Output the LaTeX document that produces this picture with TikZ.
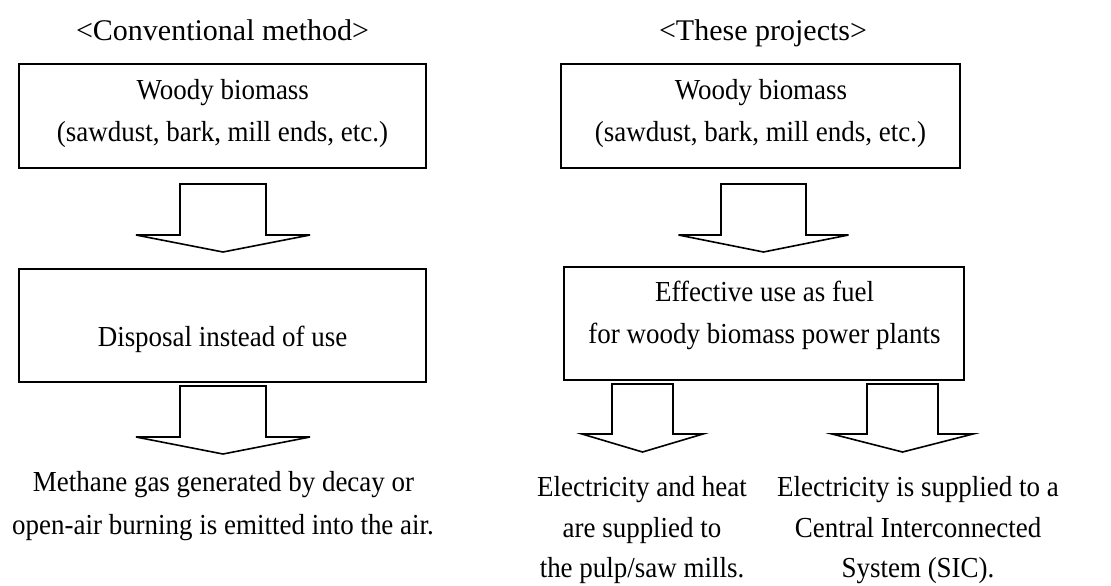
\documentclass[tikz,border=0pt]{standalone}
\usepackage{fontspec}
\setmainfont[FakeStretch=0.93]{Liberation Serif}
\newfontfamily\titlefont{Liberation Serif}
\tikzset{
  box/.style={draw, line width=1pt, inner sep=0pt},
  barrow/.style={draw, line width=0.8pt, line join=miter},
  txt/.style={inner sep=0pt, anchor=base, font=\fontsize{14.5}{17}\selectfont},
  ttl/.style={inner sep=0pt, anchor=base, font=\titlefont\fontsize{15}{18}\selectfont},
}
% block arrow: centre x, top y, shoulder y, tip y, half stem width, half head width
\newcommand\blockarrow[6]{%
  \draw[barrow] ({#1-#5},#2) -- ({#1+#5},#2) -- ({#1+#5},#3) -- ({#1+#6},#3)
    -- (#1,#4) -- ({#1-#6},#3) -- ({#1-#5},#3) -- cycle;}
\begin{document}
\begin{tikzpicture}[x=0.5pt,y=-0.5pt]
\path[use as bounding box] (0,0) rectangle (1111,585);

% ---------- left column ----------
\node[ttl] (tl) at (222.5,40.7) {<Conventional method>};
\node[box, minimum width=203.5pt, minimum height=52pt] (l1) at (222.5,116) {};
\node[txt] (l1a) at (222.8,99) {Woody biomass};
\node[txt] (l1b) at (222.5,141) {(sawdust, bark, mill ends, etc.)};
\blockarrow{223}{184}{235}{252}{43}{87}
\node[box, minimum width=203.5pt, minimum height=56.5pt] (l2) at (222.5,325.5) {};
\node[txt] (l2a) at (222.5,346) {Disposal instead of use};
\blockarrow{223}{386}{437}{454}{43}{87}
\node[txt] (l3a) at (223.5,491) {Methane gas generated by decay or};
\node[txt] (l3b) at (223,534) {open-air burning is emitted into the air.};

% ---------- right column ----------
\node[ttl] (tr) at (763,40.7) {<These projects>};
\node[box, minimum width=199.5pt, minimum height=52pt] (r1) at (760.5,116) {};
\node[txt] (r1a) at (761,99) {Woody biomass};
\node[txt] (r1b) at (760.5,141) {(sawdust, bark, mill ends, etc.)};
\blockarrow{763.5}{184}{235}{252}{42.5}{85}
\node[box, minimum width=200pt, minimum height=56.5pt] (r2) at (764,323.5) {};
\node[txt] (r2a) at (764.5,301) {Effective use as fuel};
\node[txt] (r2b) at (764.5,343) {for woody biomass power plants};
\blockarrow{642.5}{384}{434}{452}{30.5}{60.5}
\blockarrow{902.5}{384}{434}{452}{35.5}{70.5}
\node[txt] (r3a) at (642,496) {Electricity and heat};
\node[txt] (r3b) at (642,537) {are supplied to};
\node[txt] (r3c) at (642,577) {the pulp/saw mills.};
\node[txt] (r4a) at (918,496) {Electricity is supplied to a};
\node[txt] (r4b) at (918,537) {Central Interconnected};
\node[txt] (r4c) at (918,577) {System (SIC).};
\end{tikzpicture}
\end{document}
